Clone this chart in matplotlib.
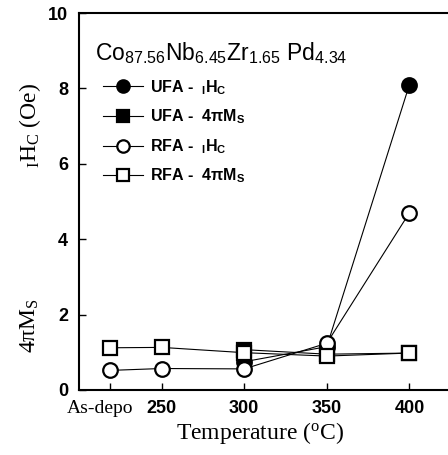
import matplotlib.pyplot as plt
from matplotlib.transforms import ScaledTranslation

plt.rcParams['font.family'] = ['Liberation Sans', 'DejaVu Sans']
plt.rcParams['mathtext.default'] = 'regular'

# temperature positions (As-depo drawn just left of 250)
temps_all = [219, 250, 300, 350, 400]
temps_ufa = [300, 350, 400]
tick_labels = ['As-depo', '250', '300', '350', '400']

ufa_hc = [0.75, 1.15, 8.1]
ufa_ms = [1.07, 0.95, 0.98]
rfa_hc = [0.52, 0.57, 0.56, 1.24, 4.7]
rfa_ms = [1.12, 1.13, 0.99, 0.9, 0.98]

fig = plt.figure(figsize=(4.48, 4.55), dpi=100)
ax = fig.add_axes([79 / 448, 1 - 390 / 455, (492 - 79) / 448, 377 / 455])

style = dict(color='black', lw=0.8, ms=10.5, mew=1.6)
ax.plot(temps_ufa, ufa_hc, marker='o', mfc='black', label='UFA -  $_{I}$H$_{C}$', **style)
ax.plot(temps_ufa, ufa_ms, marker='s', mfc='black', label='UFA -  4π$M_{S}$', **style)
ax.plot(temps_all, rfa_hc, marker='o', mfc='white', label='RFA -  $_{I}$H$_{C}$', **style)
ax.plot(temps_all, rfa_ms, marker='s', mfc='white', label='RFA -  4π$M_{S}$', **style)

ax.set_xlim(200, 450)
ax.set_ylim(0, 10)
ax.set_xticks(temps_all)
ax.set_xticklabels(tick_labels)
ax.set_yticks([0, 2, 4, 6, 8, 10])
ax.tick_params(direction='in', length=5, width=1, labelsize=13)
ax.tick_params(axis='y', pad=8)
ax.tick_params(axis='x', pad=7)
for lab in ax.get_xticklabels() + ax.get_yticklabels():
    lab.set_fontweight('bold')
first = ax.get_xticklabels()[0]
first.set_family('Liberation Serif')
first.set_fontweight('normal')
first.set_fontsize(14)
first.set_transform(first.get_transform() + ScaledTranslation(-0.1, 0, fig.dpi_scale_trans))
ax.spines['right'].set_visible(False)
for s in ['left', 'bottom', 'top']:
    ax.spines[s].set_linewidth(1.5)

ax.text(95 / 448, 1 - 53 / 455, 'Co$_{87.56}$Nb$_{6.45}$Zr$_{1.65}$ Pd$_{4.34}$',
        transform=fig.transFigure, fontsize=16.5, va='center', ha='left')

leg = ax.legend(loc='upper left', bbox_to_anchor=(103 / 448, 1 - 78 / 455),
                bbox_transform=fig.transFigure, frameon=False,
                prop=dict(size=11.5, weight='bold'),
                handlelength=2.5, handletextpad=0.45, labelspacing=0.68,
                markerscale=0.85, borderpad=0, borderaxespad=0)

fig.text(260 / 448, 1 - 433 / 455, 'Temperature ($^{o}$C)', family='Liberation Serif',
         fontsize=17, ha='center', va='center')
fig.text(30 / 448, 1 - 125 / 455, '$_{I}$H$_{C}$ (Oe)', family='Liberation Serif',
         fontsize=17, rotation=90, ha='center', va='center')
fig.text(30 / 448, 1 - 325 / 455, '4π$M_{S}$', family='Liberation Serif',
         fontsize=17, rotation=90, ha='center', va='center')

fig.savefig('out.png', dpi=100)
